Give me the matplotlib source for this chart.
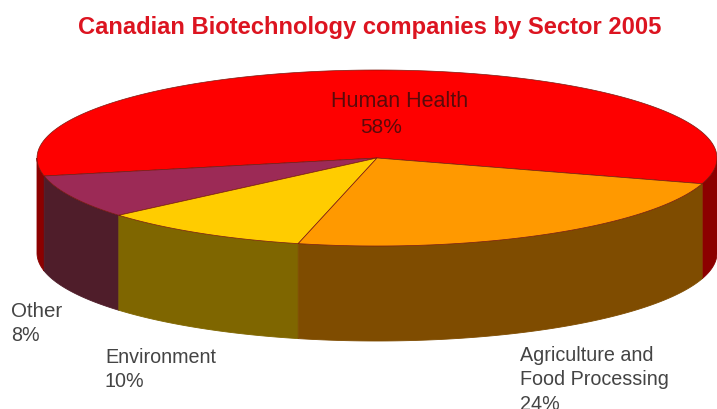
import numpy as np
import matplotlib
matplotlib.use("Agg")
import matplotlib.pyplot as plt

plt.rcParams['font.family'] = ['Liberation Sans', 'DejaVu Sans']

# shares as labelled on the chart, listed anticlockwise from the red slice
sectors = ["Human Health", "Other", "Environment", "Agriculture and", "Food Processing"]
shares = [58, 8, 10, 24]
top_colors = ["#fe0000", "#9c2a56", "#ffcc00", "#ff9900"]
side_colors = ["#8c0000", "#4f1d2a", "#7f6600", "#7f4c00"]

start_angle = -17
cx, cy = 377, 158
rx, ry = 340, 88
depth = 95

fig = plt.figure(figsize=(7.17, 4.09), dpi=100)
ax = fig.add_axes([0, 0, 1, 1])
ax.set_xlim(0, 717)
ax.set_ylim(409, 0)
ax.axis('off')


def rim(a, b):
    t = np.radians(np.linspace(a, b, 200))
    return cx + rx * np.cos(t), cy - ry * np.sin(t)


# slice limits in degrees
edges = start_angle + np.cumsum([0] + shares) * 3.6

# side walls, only the front half of the rim shows
for i in range(len(shares)):
    for lo, hi in [(edges[i], edges[i + 1]), (edges[i] + 360, edges[i + 1] + 360)]:
        a, b = max(lo, 180), min(hi, 360)
        if a >= b:
            continue
        x, y = rim(a, b)
        ax.fill(np.r_[x, x[::-1]], np.r_[y, y[::-1] + depth], facecolor=side_colors[i],
                edgecolor=side_colors[i], lw=0.6)

# top faces, the edge colour gives the soft dark seams between slices
for i in range(len(shares)):
    x, y = rim(edges[i], edges[i + 1])
    ax.fill(np.r_[cx, x], np.r_[cy, y], facecolor=top_colors[i], edgecolor="#7a1a10", lw=0.5)

ax.text(370, 34, "Canadian Biotechnology companies by Sector 2005", color="#dc1420",
        fontsize=17.1, fontweight='bold', ha='center', va='baseline')
ax.text(331, 107, sectors[0], fontsize=15.5, color="#5a0a0a")
ax.text(360, 133, f"{shares[0]}%", fontsize=15, color="#5a0a0a")
ax.text(11, 317, sectors[1], fontsize=14.8, color="#444444")
ax.text(11, 341, f"{shares[1]}%", fontsize=14.2, color="#444444")
ax.text(105, 363, sectors[2], fontsize=14.2, color="#444444")
ax.text(105, 387, f"{shares[2]}%", fontsize=14.2, color="#444444")
ax.text(520, 361, sectors[3], fontsize=14.2, color="#444444")
ax.text(520, 385, sectors[4], fontsize=14.2, color="#444444")
ax.text(520, 410, f"{shares[3]}%", fontsize=14.2, color="#444444")

fig.savefig("out.png", dpi=100)
